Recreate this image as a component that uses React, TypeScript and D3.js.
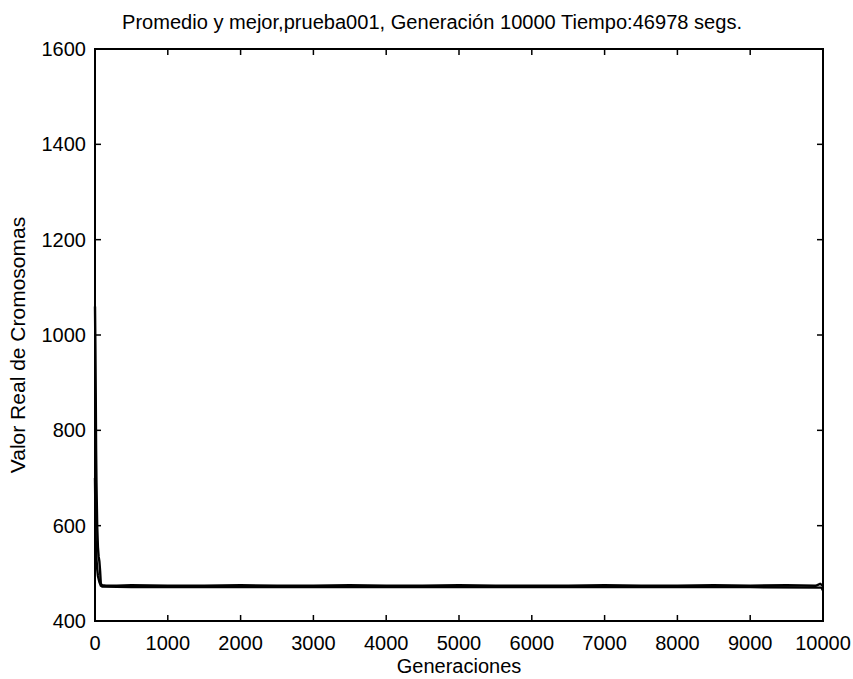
import React from "react";
import * as d3 from "d3";

const titleText = "Promedio y mejor,prueba001, Generación 10000 Tiempo:46978 segs.";
const xLabel = "Generaciones";
const yLabel = "Valor Real de Cromosomas";
const xTicks = [0, 1000, 2000, 3000, 4000, 5000, 6000, 7000, 8000, 9000, 10000];
const yTicks = [400, 600, 800, 1000, 1200, 1400, 1600];

const avgGen = [0, 5, 10, 15, 20, 30, 40, 50, 60, 70, 80, 100, 150, 300, 500, 1000, 1500, 2000, 2500, 3000, 3500, 4000, 4500, 5000, 5500, 6000, 6500, 7000, 7500, 8000, 8500, 9000, 9500, 9900, 9960, 10000];
const avgVal = [1060, 980, 880, 760, 690, 600, 555, 535, 525, 505, 478, 475, 474, 474, 475, 474, 474, 475, 474, 474, 475, 474, 474, 475, 474, 474, 474, 475, 474, 474, 475, 474, 475, 474, 478, 474];
const bestGen = [0, 10, 20, 30, 40, 60, 80, 100, 500, 1000, 2000, 3000, 4000, 5000, 6000, 7000, 8000, 9000, 9980, 10000];
const bestVal = [700, 570, 530, 510, 495, 482, 474, 472, 471, 471, 471, 471, 471, 471, 471, 471, 471, 471, 470, 464];

const W = 853, H = 679;
const L = 95, R = 823, T = 49, B = 621;
const FONT = "'Liberation Sans', Arial, Helvetica, sans-serif";

export default function App() {
  const x = d3.scaleLinear().domain([0, 10000]).range([L, R]);
  const y = d3.scaleLinear().domain([400, 1600]).range([B, T]);
  const line = d3.line<[number, number]>().x(d => x(d[0])).y(d => y(d[1]));
  const avgPts = avgGen.map((g, i) => [g, avgVal[i]] as [number, number]);
  const bestPts = bestGen.map((g, i) => [g, bestVal[i]] as [number, number]);
  const tl = 6;
  return (
    <svg width={W} height={H} style={{ position: "absolute", left: 0, top: 0, background: "#fff" }} fontFamily={FONT}>
      <rect x={0} y={0} width={W} height={H} fill="#fff" />
      <path d={line(avgPts) || ""} fill="none" stroke="#000" strokeWidth={2.4} />
      <path d={line(bestPts) || ""} fill="none" stroke="#000" strokeWidth={2.4} />
      <rect x={L} y={T} width={R - L} height={B - T} fill="none" stroke="#000" strokeWidth={2} />
      {xTicks.map(t => (
        <g key={"x" + t}>
          <line x1={x(t)} x2={x(t)} y1={B} y2={B - tl} stroke="#000" strokeWidth={1.5} />
          <line x1={x(t)} x2={x(t)} y1={T} y2={T + tl} stroke="#000" strokeWidth={1.5} />
          <text x={x(t)} y={650} textAnchor="middle" fontSize={20}>{t}</text>
        </g>
      ))}
      {yTicks.map(t => (
        <g key={"y" + t}>
          <line x1={L} x2={L + tl} y1={y(t)} y2={y(t)} stroke="#000" strokeWidth={1.5} />
          <line x1={R} x2={R - tl} y1={y(t)} y2={y(t)} stroke="#000" strokeWidth={1.5} />
          <text x={86} y={y(t) + 7} textAnchor="end" fontSize={20}>{t}</text>
        </g>
      ))}
      <text x={122} y={29} fontSize={20} textLength={620} lengthAdjust="spacingAndGlyphs">{titleText}</text>
      <text x={(L + R) / 2} y={673} textAnchor="middle" fontSize={20}>{xLabel}</text>
      <text transform={`translate(25,${(T + B) / 2 + 10}) rotate(-90)`} textAnchor="middle" fontSize={21}>{yLabel}</text>
    </svg>
  );
}
